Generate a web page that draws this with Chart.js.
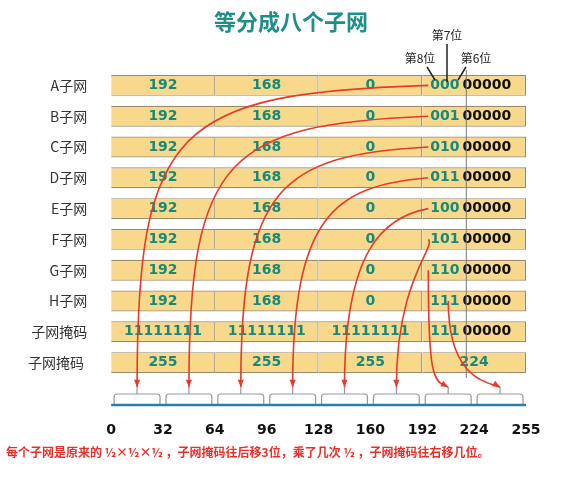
<!DOCTYPE html>
<html><head><meta charset="utf-8">
<script src="https://cdn.jsdelivr.net/npm/chart.js@4"></script>
<style>html,body{margin:0;background:#fff}#w{width:562px;height:484px}</style>
</head><body><div id="w"><canvas id="c"></canvas></div>
<script>
const rowLabels=['A子网','B子网','C子网','D子网','E子网','F子网','G子网','H子网','子网掩码','子网掩码 '];
const col1=['192','192','192','192','192','192','192','192','11111111','255'];
const col2=['168','168','168','168','168','168','168','168','11111111','255'];
const col3=['0','0','0','0','0','0','0','0','11111111','255'];
const subnetBits=['000','001','010','011','100','101','110','111','111',''];
const hostBits=['00000','00000','00000','00000','00000','00000','00000','00000','00000',''];
const col4Mask='224';
const octetWidth=[1,1,1,1];
const lineTicks=['0','32','64','96','128','160','192','224','255'];
const TEAL='#17897c';
const ds=octetWidth.map((w,i)=>({data:rowLabels.map(()=>w),backgroundColor:'#f8d98c',borderColor:'#9a8a6a',borderWidth:1.2,barPercentage:0.68,categoryPercentage:1}));
const cols=[col1,col2,col3];
const deco={id:'deco',afterDatasetsDraw(ch){
 const c=ch.ctx,x=ch.scales.x,y=ch.scales.y;
 c.save();
 c.textAlign='center';c.textBaseline='middle';
 c.fillStyle='#1f8f88';
 c.font='bold 22px "Noto Sans CJK SC"';c.fillText('等分成八个子网',291,22);
 rowLabels.forEach((l,r)=>{
  const yy=y.getPixelForValue(r);
  c.font='bold 14px "DejaVu Sans"';c.fillStyle=TEAL;
  cols.forEach((a,k)=>c.fillText(a[r],x.getPixelForValue(k+0.5),yy));
  const bx=x.getPixelForValue(3.0);
  if(subnetBits[r]){
   c.textAlign='left';c.fillStyle=TEAL;c.fillText(subnetBits[r],bx+8,yy);
   const w=c.measureText(subnetBits[r]).width;
   c.fillStyle='#111';c.fillText(hostBits[r],bx+11+w,yy);c.textAlign='center';
  }else{c.fillStyle=TEAL;c.fillText(col4Mask,x.getPixelForValue(3.5),yy);}
 });
 const dx=x.getPixelForValue(3.0)+44;
 c.strokeStyle='#777';c.lineWidth=1;c.beginPath();c.moveTo(dx,70);c.lineTo(dx,378);c.stroke();
 c.font='12px "Noto Sans CJK SC"';c.fillStyle='#222';
 c.fillText('第7位',447,35);c.fillText('第8位',420,58);c.fillText('第6位',476,58);
 c.strokeStyle='#222';c.lineWidth=1.5;c.beginPath();
 c.moveTo(447,44);c.lineTo(447,82);c.moveTo(427,67);c.lineTo(435,80);c.moveTo(466,67);c.lineTo(458,80);c.stroke();
 const ly=405,seg=[];
 for(let k=0;k<=8;k++)seg.push(x.getPixelForValue(k*0.5));
 c.strokeStyle='#999';c.lineWidth=1.2;
 for(let k=0;k<8;k++){const a=seg[k]+3,b=seg[k+1]-3,m=(a+b)/2;
  c.beginPath();c.moveTo(a,ly);c.lineTo(a,ly-8);c.quadraticCurveTo(a,ly-11,a+3,ly-11);c.lineTo(b-3,ly-11);c.quadraticCurveTo(b,ly-11,b,ly-8);c.lineTo(b,ly);
  c.moveTo(m,ly-11);c.lineTo(m,ly-18);c.stroke();}
 c.strokeStyle='#2a7fb0';c.lineWidth=2.5;c.beginPath();c.moveTo(seg[0],ly);c.lineTo(seg[8],ly);c.stroke();
 c.font='bold 14px "DejaVu Sans"';c.fillStyle='#111';
 lineTicks.forEach((t,k)=>c.fillText(t,seg[k],430));
 c.strokeStyle='#e53b2a';c.fillStyle='#e53b2a';c.lineWidth=1.6;
 for(let r=0;r<8;r++){
  const sy=y.getPixelForValue(r),sx=x.getPixelForValue(3.0)+6-(r===7?-20:0);
  const ex=(seg[r]+seg[r+1])/2,ey=ly-18;
  c.beginPath();c.moveTo(sx,sy);
  if(r<6)c.bezierCurveTo(ex+40,sy+8,ex,sy+40,ex,ey);else c.bezierCurveTo(sx,ey-10,ex-15,ey-5,ex,ey);
  c.stroke();
  const ang=r<6?Math.PI/2:0.5;
  c.beginPath();c.moveTo(ex,ey);c.lineTo(ex-8*Math.cos(ang-0.4),ey-8*Math.sin(ang-0.4));c.lineTo(ex-8*Math.cos(ang+0.4),ey-8*Math.sin(ang+0.4));c.closePath();c.fill();
 }
 c.textAlign='left';c.font='bold 12px "Noto Sans CJK SC"';c.fillStyle='#e8302a';
 c.fillText('每个子网是原来的 ½×½×½ ，子网掩码往后移3位，乘了几次 ½ ，子网掩码往右移几位。',6,452);
 c.restore();
}};
new Chart(document.getElementById('c'),{type:'bar',data:{labels:rowLabels,datasets:ds},
options:{indexAxis:'y',responsive:true,maintainAspectRatio:false,animation:false,
layout:{padding:{top:70,bottom:106,right:36,left:12}},
plugins:{legend:{display:false},tooltip:{enabled:false}},
scales:{x:{stacked:true,min:0,max:4,display:false},
y:{stacked:true,grid:{display:false},border:{display:false},ticks:{color:'#333',font:{size:14,family:'Noto Sans CJK SC'},padding:16}}}},
plugins:[deco]});
</script></body></html>
